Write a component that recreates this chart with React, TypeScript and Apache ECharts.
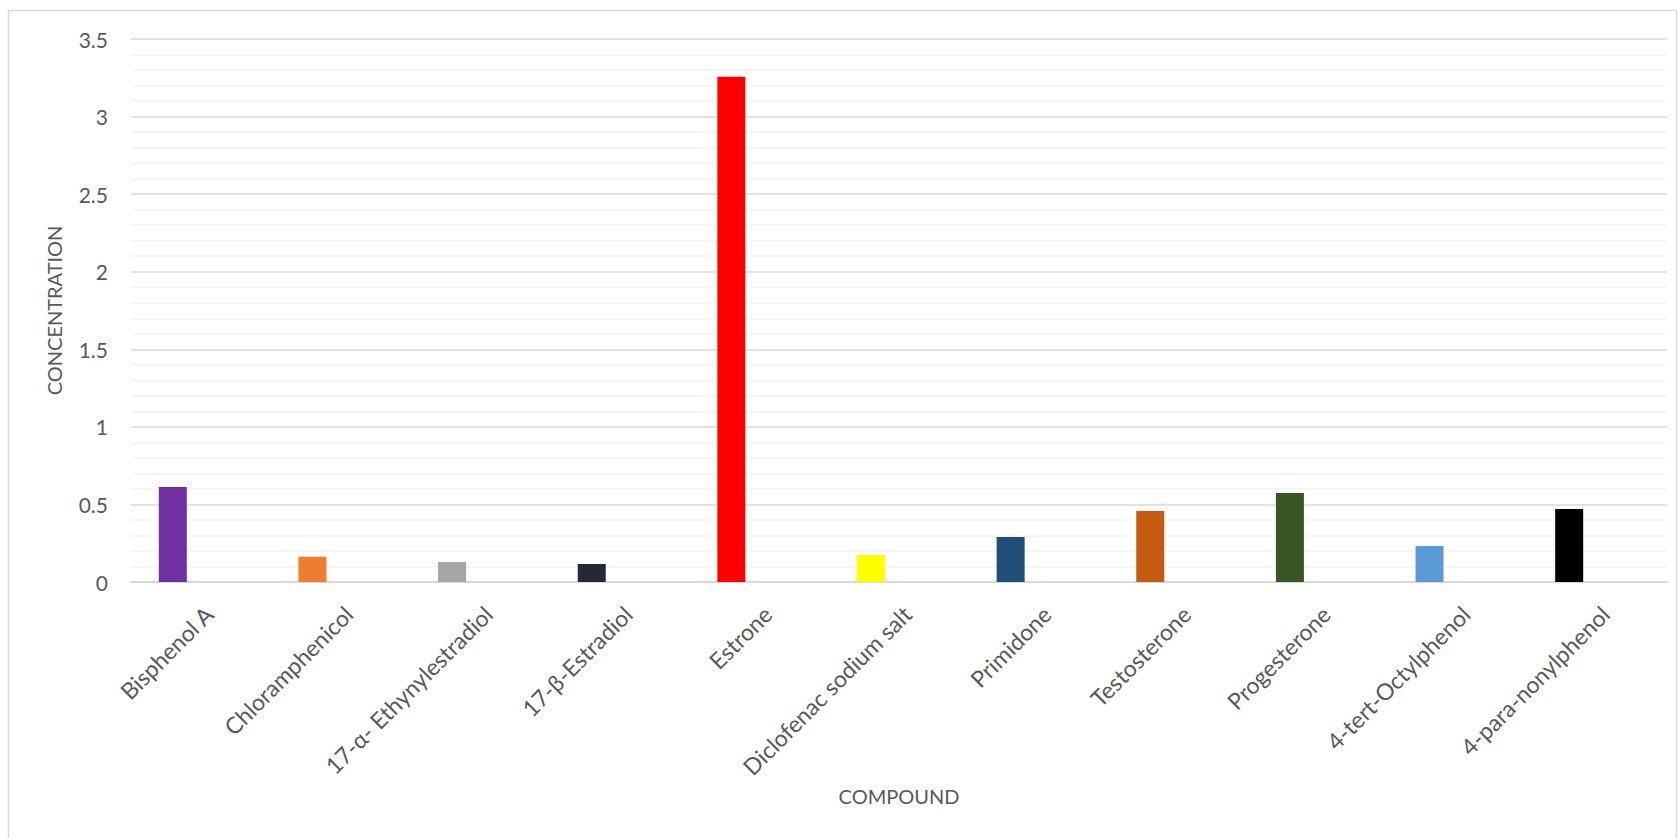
import React, { useEffect, useRef } from "react";
import * as echarts from "echarts";

const categories = [
  "Bisphenol A",
  "Chloramphenicol",
  "17-α- Ethynylestradiol",
  "17-β-Estradiol",
  "Estrone",
  "Diclofenac sodium salt",
  "Primidone",
  "Testosterone",
  "Progesterone",
  "4-tert-Octylphenol",
  "4-para-nonylphenol",
];
const concentrations = [0.612, 0.163, 0.129, 0.116, 3.256, 0.174, 0.29, 0.458, 0.574, 0.232, 0.471];
const barColors = [
  "#7030A0",
  "#ED7D31",
  "#A5A5A5",
  "#222A35",
  "#FF0000",
  "#FFFF00",
  "#1F4E79",
  "#C55A11",
  "#375623",
  "#5B9BD5",
  "#000000",
];
const emptySeries = categories.map(() => null);

const FONT = "Lato, 'Open Sans', sans-serif";
const TEXT = "#595959";

export default function App() {
  const ref = useRef<HTMLDivElement>(null);
  useEffect(() => {
    document.body.style.margin = "0";
    const chart = echarts.init(ref.current!, null, { renderer: "svg" });
    chart.setOption({
      animation: false,
      backgroundColor: "#ffffff",
      textStyle: { fontFamily: FONT, color: TEXT },
      graphic: [
        {
          type: "rect",
          shape: { x: 8.5, y: 10.5, width: 1668, height: 840 },
          style: { fill: "none", stroke: "#D9D9D9", lineWidth: 1.5 },
          silent: true,
        },
      ],
      grid: { left: 131, right: 11, top: 39, bottom: 256, containLabel: false },
      xAxis: {
        type: "category",
        data: categories,
        name: "COMPOUND",
        nameLocation: "middle",
        nameGap: 203,
        nameTextStyle: { fontFamily: FONT, fontSize: 20, color: TEXT },
        axisLine: { lineStyle: { color: "#D9D9D9", width: 2 } },
        axisTick: { show: false },
        axisLabel: {
          rotate: 45,
          interval: 0,
          margin: 20,
          verticalAlign: "top",
          fontFamily: FONT,
          fontSize: 23,
          color: TEXT,
        },
      },
      yAxis: {
        type: "value",
        min: 0,
        max: 3.5,
        interval: 0.5,
        name: "CONCENTRATION",
        nameLocation: "middle",
        nameGap: 67,
        nameTextStyle: { fontFamily: FONT, fontSize: 20, color: TEXT },
        axisLine: { show: false },
        axisTick: { show: false },
        axisLabel: { margin: 23, fontFamily: FONT, fontSize: 21, color: TEXT },
        splitLine: { lineStyle: { color: "#D9D9D9", width: 1.5 } },
        minorTick: { show: false, splitNumber: 5 },
        minorSplitLine: { show: true, lineStyle: { color: "#F2F2F2", width: 1.5 } },
      },
      series: [
        {
          type: "bar",
          name: "Concentration",
          barWidth: 28,
          barGap: "0%",
          data: concentrations.map((v, i) => ({ value: v, itemStyle: { color: barColors[i] } })),
        },
        { type: "bar", name: "s2", barWidth: 28, barGap: "0%", data: emptySeries },
        { type: "bar", name: "s3", barWidth: 28, barGap: "0%", data: emptySeries },
      ],
    });
    return () => chart.dispose();
  }, []);
  return (
    <div
      ref={ref}
      style={{ position: "absolute", left: 0, top: 0, width: 1678, height: 838 }}
    />
  );
}
